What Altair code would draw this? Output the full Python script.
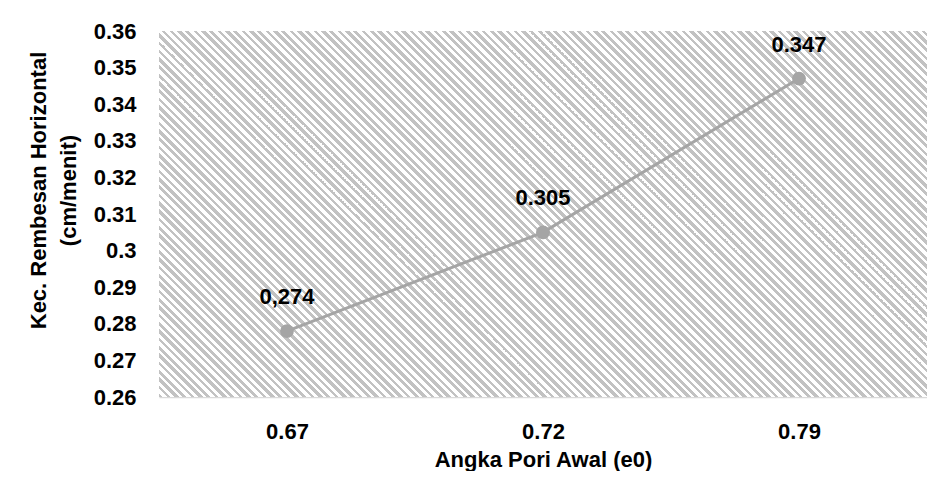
import altair as alt
import pandas as pd

# ---- data ----
categories = ["0.67", "0.72", "0.79"]
values = [0.278, 0.305, 0.347]
point_labels = ["0,274", "0.305", "0.347"]
y_ticks = [0.26, 0.27, 0.28, 0.29, 0.30, 0.31, 0.32, 0.33, 0.34, 0.35, 0.36]

df = pd.DataFrame({"e0": categories, "k": values, "label": point_labels})

# ---- layout / style ----
W, H = 768, 366
FONT = "Liberation Sans, Arial, sans-serif"
GRAY_LINE = "#a5a5a5"
HATCH_GRAY = "#c2c2c2"
HATCH_WHITE = "#ffffff"

# diagonal hatch built as a striped linear gradient (45 degree stripes)
r = H / W
s = (1 + r) / (1 + r * r)
L = W + H
pitch = 8.0
stops = []
k = 0
while True:
    t0 = k * pitch / L
    if t0 >= 1:
        break
    t1 = min((k + 0.5) * pitch / L, 1.0)
    t2 = min((k + 1) * pitch / L, 1.0)
    stops += [
        {"offset": round(t0, 6), "color": HATCH_GRAY},
        {"offset": round(t1, 6), "color": HATCH_GRAY},
        {"offset": round(t1, 6), "color": HATCH_WHITE},
        {"offset": round(t2, 6), "color": HATCH_WHITE},
    ]
    k += 1
hatch = {"gradient": "linear", "x1": 0, "y1": 1, "x2": s, "y2": 1 - s * r, "stops": stops}

background = alt.Chart(pd.DataFrame({"a": [0]})).mark_rect(fill=hatch).encode(
    x=alt.value(0), x2=alt.value("width"), y=alt.value(0), y2=alt.value("height")
)

x_enc = alt.X(
    "e0:N",
    sort=categories,
    scale=alt.Scale(type="point", padding=0.5),
    axis=alt.Axis(
        title="Angka Pori Awal (e0)",
        labelAngle=0,
        labelFont=FONT,
        labelFontSize=22,
        labelFontWeight="bold",
        labelColor="#000000",
        labelPadding=24,
        ticks=False,
        domain=True,
        domainColor="#d9d9d9",
        domainWidth=1.5,
        grid=False,
        titleFont=FONT,
        titleFontSize=22,
        titleFontWeight="bold",
        titleColor="#000000",
        titleBaseline="middle",
        titleY=62,
    ),
)
y_enc = alt.Y(
    "k:Q",
    scale=alt.Scale(domain=[0.26, 0.36], nice=False, zero=False),
    axis=alt.Axis(
        values=y_ticks,
        format=".2~f",
        title=["Kec. Rembesan Horizontal", "(cm/menit)"],
        labelFont=FONT,
        labelFontSize=22,
        labelFontWeight="bold",
        labelColor="#000000",
        labelPadding=23,
        ticks=False,
        domain=False,
        grid=False,
        titleFont=FONT,
        titleFontSize=22,
        titleFontWeight="bold",
        titleColor="#000000",
        titleLineHeight=30,
        titleBaseline="middle",
        titleX=-121,
        titleY=159,
    ),
)

line = alt.Chart(df).mark_line(color=GRAY_LINE, strokeWidth=3).encode(x=x_enc, y=y_enc)
points = alt.Chart(df).mark_circle(color=GRAY_LINE, size=190, opacity=1).encode(x=x_enc, y=y_enc)
text = alt.Chart(df).mark_text(
    dy=-34, font=FONT, fontSize=22, fontWeight="bold", color="#000000", baseline="middle"
).encode(x=x_enc, y=y_enc, text="label:N")

chart = alt.layer(background, line, points, text).properties(
    width=W,
    height=H,
    autosize=alt.AutoSizeParams(type="none"),
    padding={"left": 151, "top": 23, "right": 0, "bottom": 74},
).configure_view(stroke=None)

chart.save("out.html", embed_options={"renderer": "svg", "actions": False})
